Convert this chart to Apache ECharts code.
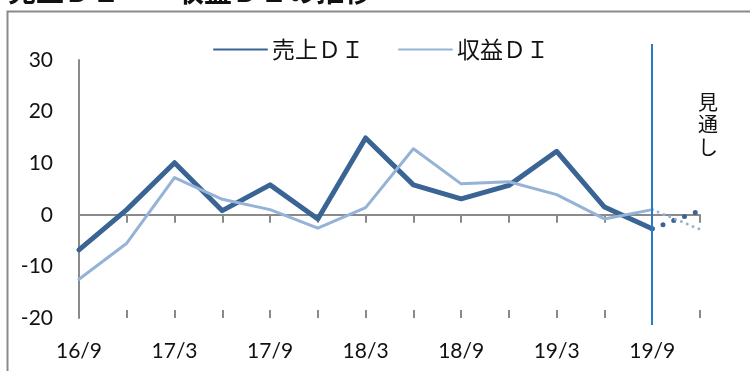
<!DOCTYPE html>
<html>
<head>
<meta charset="utf-8">
<script src="https://cdn.jsdelivr.net/npm/echarts@6/dist/echarts.min.js"></script>
<style>
  html, body { margin: 0; padding: 0; background: #fff; }
  #chart { width: 750px; height: 371px; }
</style>
</head>
<body>
<div id="chart"></div>
<script>
// Quarterly periods (year/month)
const categories = ['16/9', '16/12', '17/3', '17/6', '17/9', '17/12', '18/3', '18/6', '18/9', '18/12', '19/3', '19/6', '19/9', '19/12'];

// Actual results
const salesDI  = [-6.8, 1.0, 10.1, 0.8, 5.8, -0.8, 14.9, 5.8, 3.1, 5.7, 12.3, 1.5, -2.7, null];
const profitDI = [-12.5, -5.5, 7.2, 3.0, 1.0, -2.6, 1.4, 12.8, 6.0, 6.4, 3.9, -0.8, 1.0, null];

// Outlook (from the latest result to the next quarter)
const salesOutlook  = [null, null, null, null, null, null, null, null, null, null, null, null, -2.7, 0.8];
const profitOutlook = [null, null, null, null, null, null, null, null, null, null, null, null, 1.0, -2.8];

// Value axis range
const yMin = -20, yMax = 30, yStep = 10;

const seriesNames = ['売上ＤＩ', '収益ＤＩ'];
const outlookLabel = '見通し';
const titleText = '売上ＤＩ　・収益ＤＩの推移';
const splitPeriod = '19/9';

const DARK = '#3a6494';
const LIGHT = '#95b3d7';
const AXIS = '#8a8a8a';
const latin = 'Lato, "Noto Sans CJK JP", sans-serif';
const cjk = '"Noto Sans CJK JP", sans-serif';

const chart = echarts.init(document.getElementById('chart'), null, { renderer: 'canvas' });

const plotGrid = { left: 79, right: 50, top: 60, bottom: 53 };

chart.setOption({
  animation: false,
  backgroundColor: '#fff',
  graphic: [
    { type: 'rect', left: 5, top: 9, shape: { width: 800, height: 420 },
      style: { fill: 'none', stroke: AXIS, lineWidth: 2 }, z: -1 },
    { type: 'text', left: 8, top: -23,
      style: { text: titleText, font: 'bold 28px ' + cjk, fill: '#111' } },
    { type: 'text', left: 698, top: 91,
      style: { text: outlookLabel.split('').join('\n'), font: '20px ' + cjk,
               lineHeight: 22.5, fill: '#111', align: 'left' } }
  ],
  legend: {
    data: seriesNames,
    left: 208,
    top: 33,
    itemWidth: 53,
    itemHeight: 14,
    itemGap: 34,
    itemStyle: { opacity: 0 },
    textStyle: { fontFamily: cjk, fontSize: 23, color: '#111' }
  },
  grid: [
    plotGrid,
    { left: 79, right: 50, top: 44, bottom: 46 }
  ],
  xAxis: [
    { // period labels along the bottom
      type: 'category', data: categories, boundaryGap: false, gridIndex: 0,
      position: 'bottom',
      axisLine: { show: false, onZero: false },
      axisTick: { show: false },
      axisLabel: { interval: 1, margin: 23, fontFamily: latin, fontSize: 21, color: '#111' }
    },
    { // zero line with ticks below it
      type: 'category', data: categories, boundaryGap: false, gridIndex: 0,
      position: 'bottom',
      axisLine: { show: true, onZero: true, lineStyle: { color: AXIS, width: 2 } },
      axisTick: { show: true, inside: false, length: 8, interval: 0, lineStyle: { color: AXIS, width: 2 } },
      axisLabel: { show: false }
    },
    { // ticks above the zero line
      type: 'category', data: categories, boundaryGap: false, gridIndex: 0,
      position: 'bottom',
      axisLine: { show: false, onZero: true },
      axisTick: { show: true, inside: true, length: 8, interval: 0, lineStyle: { color: AXIS, width: 2 } },
      axisLabel: { show: false }
    },
    { // helper axis for the outlook divider
      type: 'category', data: categories, boundaryGap: false, gridIndex: 1, show: false
    }
  ],
  yAxis: [
    {
      type: 'value', min: yMin, max: yMax, interval: yStep, gridIndex: 0,
      axisLine: { show: true, onZero: false, lineStyle: { color: AXIS, width: 2 } },
      axisTick: { show: false },
      splitLine: { show: false },
      axisLabel: { margin: 26, fontFamily: latin, fontSize: 21, color: '#111' }
    },
    { type: 'value', min: 0, max: 1, gridIndex: 1, show: false }
  ],
  series: [
    {
      name: seriesNames[0], type: 'line', xAxisIndex: 1, yAxisIndex: 0,
      data: salesDI, symbol: 'none', z: 3,
      lineStyle: { color: DARK, width: 5, cap: 'round', join: 'round' },
      itemStyle: { color: DARK }
    },
    {
      name: seriesNames[1], type: 'line', xAxisIndex: 1, yAxisIndex: 0,
      data: profitDI, symbol: 'none', z: 4,
      lineStyle: { color: LIGHT, width: 3, cap: 'round', join: 'round' },
      itemStyle: { color: LIGHT }
    },
    {
      name: seriesNames[0] + '見通し', type: 'line', xAxisIndex: 1, yAxisIndex: 0,
      data: salesOutlook, symbol: 'none', z: 3,
      lineStyle: { color: DARK, width: 5, type: [0, 11.5], cap: 'round' }
    },
    {
      name: seriesNames[1] + '見通し', type: 'line', xAxisIndex: 1, yAxisIndex: 0,
      data: profitOutlook, symbol: 'none', z: 4,
      lineStyle: { color: LIGHT, width: 3, type: [0, 6.3], cap: 'round' }
    },
    {
      name: 'divider', type: 'line', xAxisIndex: 3, yAxisIndex: 1,
      data: [], symbol: 'none', z: 5,
      markLine: {
        silent: true, symbol: 'none', animation: false,
        label: { show: false },
        lineStyle: { color: '#2a7ac4', width: 2, type: 'solid' },
        data: [{ xAxis: splitPeriod }]
      }
    }
  ]
});
</script>
</body>
</html>
